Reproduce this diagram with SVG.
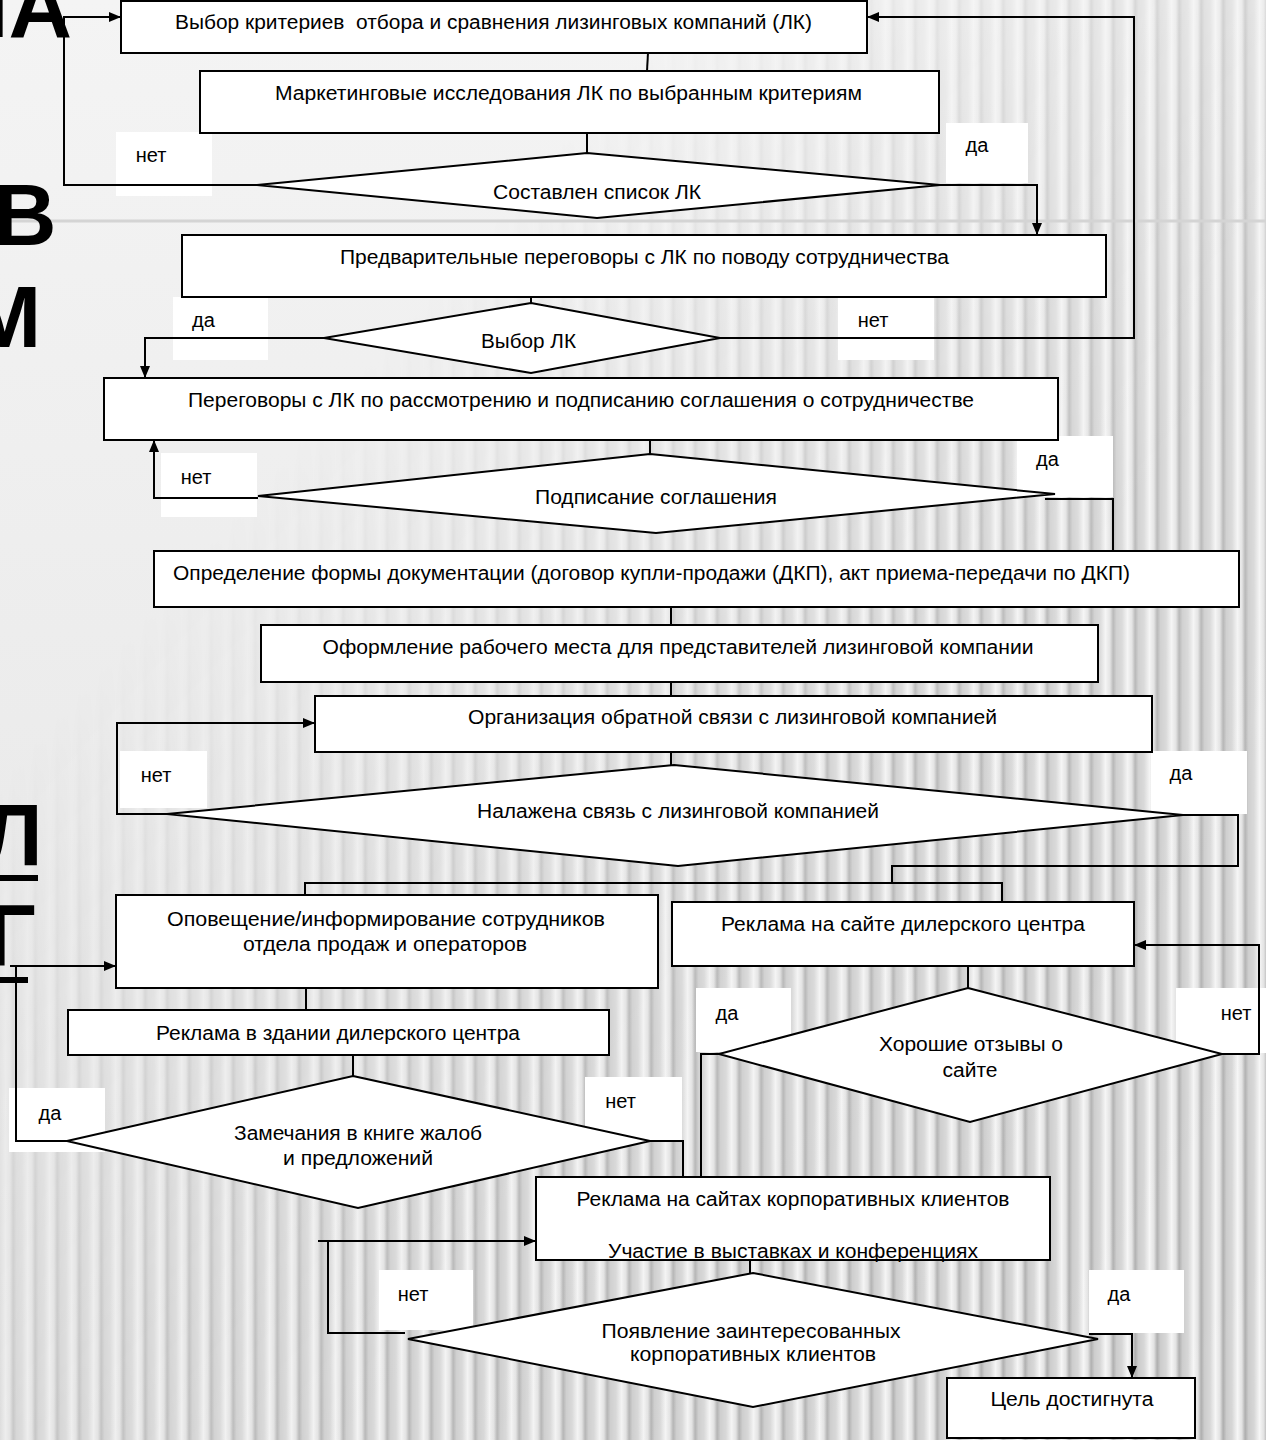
<svg xmlns="http://www.w3.org/2000/svg" width="1266" height="1440" viewBox="0 0 1266 1440">
<style>
.box{fill:#fff;stroke:#000;stroke-width:2}
.lbl{fill:#fff}
.ln{fill:none;stroke:#000;stroke-width:2}
.t{font-family:"Liberation Sans",Arial,sans-serif;font-size:20px;fill:#000;text-anchor:middle}
.big{font-family:"Liberation Sans",Arial,sans-serif;font-size:88px;font-weight:bold;fill:#000}
</style>
<defs>
<linearGradient id="base" x1="0" y1="0" x2="0" y2="1">
<stop offset="0" stop-color="#f4f4f4"/><stop offset="1" stop-color="#e4e4e4"/>
</linearGradient>
<linearGradient id="sg" x1="0" y1="0" x2="1" y2="0">
<stop offset="0" stop-color="#d6d6d6"/><stop offset="0.25" stop-color="#f6f6f6"/><stop offset="0.45" stop-color="#e2e2e2"/><stop offset="0.6" stop-color="#adadad"/><stop offset="0.75" stop-color="#cbcbcb"/><stop offset="1" stop-color="#d6d6d6"/>
</linearGradient>
<pattern id="stripes" width="22" height="40" patternUnits="userSpaceOnUse">
<rect width="22" height="40" fill="url(#sg)"/>
</pattern>
<linearGradient id="mg" x1="0" y1="0" x2="1" y2="1">
<stop offset="0" stop-color="#000"/><stop offset="0.27" stop-color="#000"/><stop offset="0.42" stop-color="#555"/><stop offset="0.62" stop-color="#c8c8c8"/><stop offset="1" stop-color="#fff"/>
</linearGradient>
<mask id="m"><rect width="1266" height="1440" fill="url(#mg)"/></mask>
<marker id="arr" viewBox="0 0 12 10" refX="12" refY="5" markerWidth="12" markerHeight="10" markerUnits="userSpaceOnUse" orient="auto">
<path d="M0,0 L12,5 L0,10 z" fill="#000"/>
</marker>
</defs>

<g id="background">
<rect width="1266" height="1440" fill="url(#base)"/>
<rect width="1266" height="1440" fill="url(#stripes)" mask="url(#m)"/>
<rect x="0" y="219.5" width="1266" height="3" fill="#d4d4d4"/>
</g>

<g id="side-letters">
<text class="big" x="72" y="37" text-anchor="end">НА</text>
<text class="big" x="-7" y="245">В</text>
<text class="big" x="-32" y="347">М</text>
<text class="big" x="-19" y="865">Л</text>
<rect x="0" y="875" width="38" height="6" fill="#000"/>
<text class="big" x="-14" y="965">Г</text>
<rect x="0" y="977" width="28" height="6" fill="#000"/>
</g>

<g id="label-boxes">
<rect class="lbl" x="116" y="132" width="96" height="64"/>
<rect class="lbl" x="946" y="123" width="82" height="60"/>
<rect class="lbl" x="173" y="297" width="95" height="63"/>
<rect class="lbl" x="838" y="297" width="96" height="63"/>
<rect class="lbl" x="161" y="453" width="96" height="64"/>
<rect class="lbl" x="1017" y="436" width="96" height="61"/>
<rect class="lbl" x="120" y="751" width="87" height="57"/>
<rect class="lbl" x="1151" y="751" width="96" height="63"/>
<rect class="lbl" x="696" y="988" width="95" height="64"/>
<rect class="lbl" x="1176" y="988" width="90" height="65"/>
<rect class="lbl" x="9" y="1088" width="96" height="64"/>
<rect class="lbl" x="585" y="1077" width="97" height="63"/>
<rect class="lbl" x="379" y="1270" width="94" height="60"/>
<rect class="lbl" x="1089" y="1270" width="95" height="63"/>
</g>

<g id="connectors">
<path class="ln" d="M648,53 L647,71"/>
<path class="ln" d="M587,133 L587,153"/>
<path class="ln" d="M257,185 L64,185 L64,17 L121,17" marker-end="url(#arr)"/>
<path class="ln" d="M940,185 L1037,185 L1037,235" marker-end="url(#arr)"/>
<path class="ln" d="M531,297 L531,303"/>
<path class="ln" d="M324,338 L145,338 L145,378" marker-end="url(#arr)"/>
<path class="ln" d="M718,338 L1134,338 L1134,17 L867,17" marker-end="url(#arr)"/>
<path class="ln" d="M650,440 L650,454"/>
<path class="ln" d="M258,498 L154,498 L154,440" marker-end="url(#arr)"/>
<path class="ln" d="M1045,499 L1113,499 L1113,551"/>
<path class="ln" d="M671,607 L671,625"/>
<path class="ln" d="M671,682 L671,696"/>
<path class="ln" d="M671,752 L671,765"/>
<path class="ln" d="M167,814 L117,814 L117,723 L315,723" marker-end="url(#arr)"/>
<path class="ln" d="M1183,815 L1238,815 L1238,866 L892,866 L892,883"/>
<path class="ln" d="M305,895 L305,883 L1002,883 L1002,902"/>
<path class="ln" d="M306,988 L306,1010"/>
<path class="ln" d="M353,1055 L353,1076"/>
<path class="ln" d="M968,966 L968,988"/>
<path class="ln" d="M1222,1054 L1259,1054 L1259,945 L1134,945" marker-end="url(#arr)"/>
<path class="ln" d="M719,1054 L701,1054 L701,1177"/>
<path class="ln" d="M650,1141 L683,1141 L683,1177"/>
<path class="ln" d="M67,1141 L16,1141 L16,966"/>
<path class="ln" d="M10,966 L116,966" marker-end="url(#arr)"/>
<path class="ln" d="M750,1260 L750,1273"/>
<path class="ln" d="M405,1333 L328,1333 L328,1241"/>
<path class="ln" d="M318,1241 L536,1241" marker-end="url(#arr)"/>
<path class="ln" d="M1089,1334 L1132,1334 L1132,1378" marker-end="url(#arr)"/>
</g>

<g id="n1"><rect class="box" x="121" y="1" width="746" height="52"/>
<text class="t" x="493.5" y="29" textLength="637" lengthAdjust="spacingAndGlyphs" xml:space="preserve">Выбор критериев  отбора и сравнения лизинговых компаний (ЛК)</text></g>
<g id="n2"><rect class="box" x="200" y="71" width="739" height="62"/>
<text class="t" x="568.5" y="100" textLength="587" lengthAdjust="spacingAndGlyphs">Маркетинговые исследования ЛК по выбранным критериям</text></g>
<g id="d1"><polygon class="box" points="587,153 940,185 597,218 257,185"/>
<text class="t" x="597" y="199" textLength="208" lengthAdjust="spacingAndGlyphs">Составлен список ЛК</text></g>
<g id="n3"><rect class="box" x="182" y="235" width="924" height="62"/>
<text class="t" x="644.5" y="264" textLength="609" lengthAdjust="spacingAndGlyphs">Предварительные переговоры с ЛК по поводу сотрудничества</text></g>
<g id="d2"><polygon class="box" points="531,303 720,338 531,373 324,338"/>
<text class="t" x="528.5" y="348" textLength="95" lengthAdjust="spacingAndGlyphs">Выбор ЛК</text></g>
<g id="n4"><rect class="box" x="104" y="378" width="954" height="62"/>
<text class="t" x="581" y="407" textLength="786" lengthAdjust="spacingAndGlyphs">Переговоры с ЛК по рассмотрению и подписанию соглашения о сотрудничестве</text></g>
<g id="d3"><polygon class="box" points="650,454 1055,494 656,533 258,496"/>
<text class="t" x="656" y="504" textLength="242" lengthAdjust="spacingAndGlyphs">Подписание соглашения</text></g>
<g id="n5"><rect class="box" x="154" y="551" width="1085" height="56"/>
<text class="t" x="651.5" y="580" textLength="957" lengthAdjust="spacingAndGlyphs">Определение формы документации (договор купли-продажи (ДКП), акт приема-передачи по ДКП)</text></g>
<g id="n6"><rect class="box" x="261" y="625" width="837" height="57"/>
<text class="t" x="678" y="654" textLength="711" lengthAdjust="spacingAndGlyphs">Оформление рабочего места для представителей лизинговой компании</text></g>
<g id="n7"><rect class="box" x="315" y="696" width="837" height="56"/>
<text class="t" x="732.5" y="724" textLength="529" lengthAdjust="spacingAndGlyphs">Организация обратной связи с лизинговой компанией</text></g>
<g id="d4"><polygon class="box" points="674,765 1183,815 678,866 167,814"/>
<text class="t" x="678" y="818" textLength="402" lengthAdjust="spacingAndGlyphs">Налажена связь с лизинговой компанией</text></g>
<g id="n8"><rect class="box" x="116" y="895" width="542" height="93"/>
<text class="t" x="386" y="926" textLength="438" lengthAdjust="spacingAndGlyphs">Оповещение/информирование сотрудников</text>
<text class="t" x="385" y="951" textLength="284" lengthAdjust="spacingAndGlyphs">отдела продаж и операторов</text></g>
<g id="n9"><rect class="box" x="672" y="902" width="462" height="64"/>
<text class="t" x="903" y="931" textLength="364" lengthAdjust="spacingAndGlyphs">Реклама на сайте дилерского центра</text></g>
<g id="n10"><rect class="box" x="68" y="1010" width="541" height="45"/>
<text class="t" x="338" y="1040" textLength="364" lengthAdjust="spacingAndGlyphs">Реклама в здании дилерского центра</text></g>
<g id="d5"><polygon class="box" points="968,988 1222,1054 970,1122 719,1054"/>
<text class="t" x="971" y="1051" textLength="184" lengthAdjust="spacingAndGlyphs">Хорошие отзывы о</text>
<text class="t" x="970" y="1077" textLength="55" lengthAdjust="spacingAndGlyphs">сайте</text></g>
<g id="d6"><polygon class="box" points="353,1076 650,1141 358,1208 67,1141"/>
<text class="t" x="358" y="1140" textLength="248" lengthAdjust="spacingAndGlyphs">Замечания в книге жалоб</text>
<text class="t" x="358" y="1165" textLength="150" lengthAdjust="spacingAndGlyphs">и предложений</text></g>
<g id="n11"><rect class="box" x="536" y="1177" width="514" height="83"/>
<text class="t" x="793" y="1206" textLength="433" lengthAdjust="spacingAndGlyphs">Реклама на сайтах корпоративных клиентов</text>
<text class="t" x="793" y="1258" textLength="370" lengthAdjust="spacingAndGlyphs">Участие в выставках и конференциях</text></g>
<g id="d7"><polygon class="box" points="753,1273 1098,1339 753,1407 408,1339"/>
<text class="t" x="751" y="1338" textLength="299" lengthAdjust="spacingAndGlyphs">Появление заинтересованных</text>
<text class="t" x="753" y="1361" textLength="246" lengthAdjust="spacingAndGlyphs">корпоративных клиентов</text></g>
<g id="n12"><rect class="box" x="947" y="1378" width="248" height="60"/>
<text class="t" x="1072" y="1406" textLength="163" lengthAdjust="spacingAndGlyphs">Цель достигнута</text></g>

<g id="labels">
<text class="t" x="151" y="162">нет</text>
<text class="t" x="977" y="152">да</text>
<text class="t" x="203.5" y="327">да</text>
<text class="t" x="873" y="327">нет</text>
<text class="t" x="196" y="484">нет</text>
<text class="t" x="1047.5" y="466">да</text>
<text class="t" x="156" y="782">нет</text>
<text class="t" x="1181" y="780">да</text>
<text class="t" x="727" y="1020">да</text>
<text class="t" x="1236" y="1020">нет</text>
<text class="t" x="50" y="1120">да</text>
<text class="t" x="620.5" y="1108">нет</text>
<text class="t" x="413" y="1301">нет</text>
<text class="t" x="1119" y="1301">да</text>
</g>
</svg>
